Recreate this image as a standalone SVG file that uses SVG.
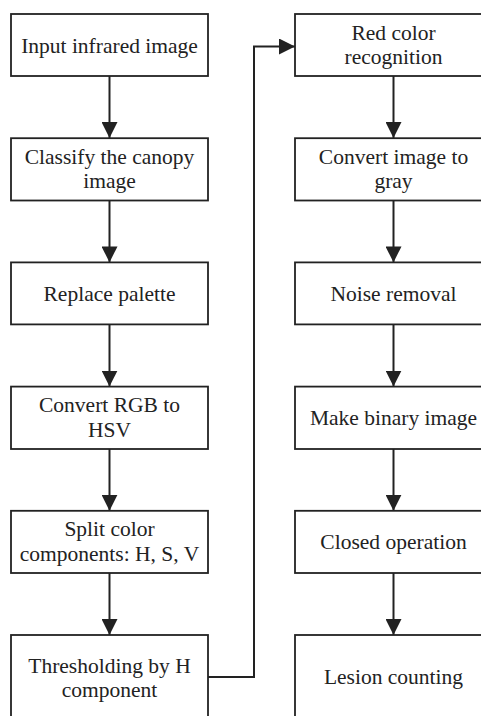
<svg xmlns="http://www.w3.org/2000/svg" width="481" height="716" viewBox="0 0 481 716">
<style>
.box{fill:#fff;stroke:#222;stroke-width:1.8}
.t{font-family:'Liberation Serif','Times New Roman','DejaVu Serif',serif;font-size:21.5px;fill:#222;text-anchor:middle}
.c{fill:none;stroke:#222;stroke-width:2}
</style>
<defs>
<marker id="ah" markerUnits="userSpaceOnUse" markerWidth="16" markerHeight="16" viewBox="0 0 15 15" refX="15" refY="7.5" orient="auto">
<path d="M0,0 L15,7.5 L0,15 Z" fill="#222"/>
</marker>
</defs>
<rect width="481" height="716" fill="#fff"/>
<g id="connectors">
<line class="c" x1="109.5" y1="76" x2="109.5" y2="138" marker-end="url(#ah)"/>
<line class="c" x1="109.5" y1="200.5" x2="109.5" y2="262.4" marker-end="url(#ah)"/>
<line class="c" x1="109.5" y1="324.5" x2="109.5" y2="386.6" marker-end="url(#ah)"/>
<line class="c" x1="109.5" y1="449" x2="109.5" y2="510.8" marker-end="url(#ah)"/>
<line class="c" x1="109.5" y1="573" x2="109.5" y2="635" marker-end="url(#ah)"/>
<polyline class="c" points="208,677 254,677 254,46.5 295,46.5" marker-end="url(#ah)"/>
<line class="c" x1="393.5" y1="76" x2="393.5" y2="138" marker-end="url(#ah)"/>
<line class="c" x1="393.5" y1="200.5" x2="393.5" y2="262.4" marker-end="url(#ah)"/>
<line class="c" x1="393.5" y1="324.5" x2="393.5" y2="386.6" marker-end="url(#ah)"/>
<line class="c" x1="393.5" y1="449" x2="393.5" y2="510.8" marker-end="url(#ah)"/>
<line class="c" x1="393.5" y1="573" x2="393.5" y2="635" marker-end="url(#ah)"/>
</g>
<g id="n1"><rect class="box" x="11" y="14" width="197" height="62"/><text class="t" x="109.5" y="52.5" font-family="Liberation Serif">Input infrared image</text></g>
<g id="n2"><rect class="box" x="11" y="138.2" width="197" height="62.3"/><text class="t" x="109.5" y="163.8">Classify the canopy</text><text class="t" x="109.5" y="188.3">image</text></g>
<g id="n3"><rect class="box" x="11" y="262.4" width="197" height="62"/><text class="t" x="109.5" y="300.8">Replace palette</text></g>
<g id="n4"><rect class="box" x="11" y="386.6" width="197" height="62.4"/><text class="t" x="109.5" y="412">Convert RGB to</text><text class="t" x="109.5" y="436.5">HSV</text></g>
<g id="n5"><rect class="box" x="11" y="510.8" width="197" height="62.2"/><text class="t" x="109.5" y="536.4">Split color</text><text class="t" x="109.5" y="560.9">components: H, S, V</text></g>
<g id="n6"><rect class="box" x="11" y="635" width="197" height="86"/><text class="t" x="109.5" y="672.5">Thresholding by H</text><text class="t" x="109.5" y="697">component</text></g>
<g id="n7"><rect class="box" x="295" y="14" width="197" height="62"/><text class="t" x="393.5" y="39.5">Red color</text><text class="t" x="393.5" y="64">recognition</text></g>
<g id="n8"><rect class="box" x="295" y="138.2" width="197" height="62.3"/><text class="t" x="393.5" y="163.8">Convert image to</text><text class="t" x="393.5" y="188.3">gray</text></g>
<g id="n9"><rect class="box" x="295" y="262.4" width="197" height="62"/><text class="t" x="393.5" y="300.8">Noise removal</text></g>
<g id="n10"><rect class="box" x="295" y="386.6" width="197" height="62.4"/><text class="t" x="393.5" y="425.2">Make binary image</text></g>
<g id="n11"><rect class="box" x="295" y="510.8" width="197" height="62.2"/><text class="t" x="393.5" y="549.3">Closed operation</text></g>
<g id="n12"><rect class="box" x="295" y="635" width="197" height="86"/><text class="t" x="393.5" y="684">Lesion counting</text></g>
</svg>
